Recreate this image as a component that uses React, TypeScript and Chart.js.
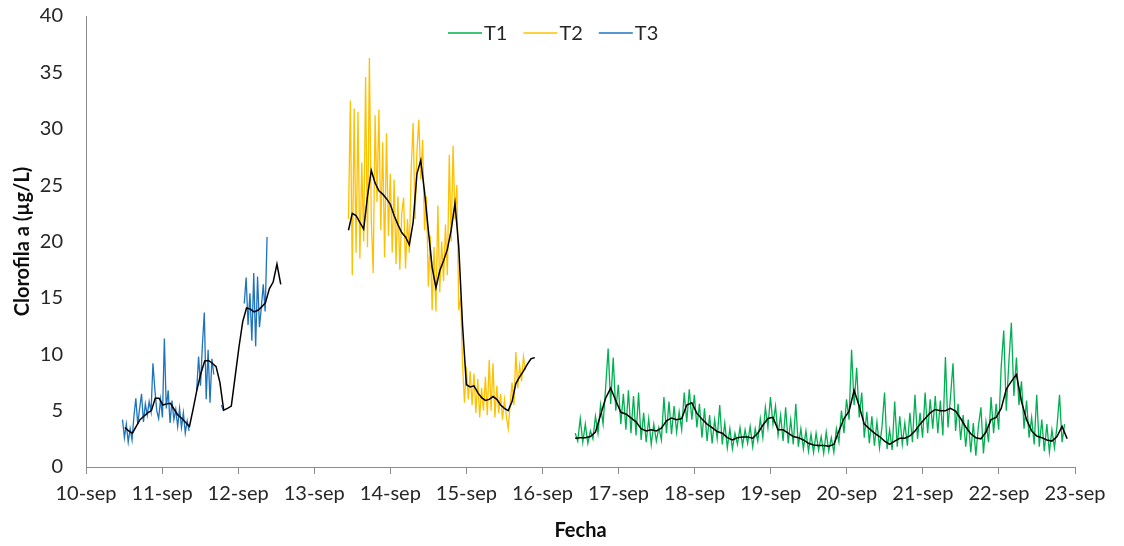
import { useEffect, useRef } from 'react';
import { Chart, registerables } from 'chart.js';

Chart.register(...registerables);

// ---- Data (days in September, values in µg/L) ----
const dayTicks = [10, 11, 12, 13, 14, 15, 16, 17, 18, 19, 20, 21, 22, 23];
const monthSuffix = '-sep';
const seriesNames = ['T1', 'T2', 'T3'];
const seriesColors = ['#00B050', '#FFC000', '#1E73BE'];
const xTitle = 'Fecha';
const yTitle = 'Clorofila a (µg/L)';

// T1 (green): sampled every 1/30 day
const t1Start = 16.43;
const t1Step = 1 / 30;
const t1Values = [
  3.0, 2.3, 4.3, 2.2, 3.8, 2.1, 3.2, 2.5, 4.5, 3.0,
  5.5, 3.8, 7.0, 10.5, 5.6, 9.7, 5.0, 7.3, 3.8, 6.5,
  3.3, 6.8, 3.0, 6.3, 2.8, 6.6, 2.4, 4.8, 2.2, 4.3,
  2.0, 3.8, 2.3, 3.5, 2.4, 6.2, 3.0, 5.8, 2.9, 5.4,
  3.1, 4.9, 3.3, 6.6, 4.0, 6.9, 4.2, 6.4, 3.5, 5.6,
  2.6, 5.2, 2.3, 4.6, 2.1, 4.2, 2.5, 5.5, 2.0, 3.9,
  1.7, 3.4, 1.6, 3.0, 2.0, 3.5, 1.9, 3.3, 2.1, 3.6,
  1.8, 3.4, 2.3, 4.3, 2.6, 5.3, 3.5, 6.2, 3.8, 5.4,
  2.8, 4.6, 2.3, 5.3, 2.1, 4.2, 2.0, 5.6, 1.8, 3.4,
  1.6, 3.2, 1.4, 2.9, 1.3, 3.0, 1.5, 2.7, 1.2, 3.1,
  1.4, 2.6, 1.3, 3.4, 2.2, 5.0, 3.0, 6.0, 4.2, 10.4,
  5.5, 8.8, 4.4, 6.6, 2.6, 4.9, 2.1, 4.5, 1.9, 4.0,
  1.7, 3.6, 6.6, 1.6, 3.3, 1.5, 5.8, 1.8, 4.5, 2.0,
  3.9, 1.9, 4.8, 2.2, 6.4, 2.5, 4.8, 2.6, 6.6, 3.0,
  6.0, 3.4, 6.3, 3.0, 5.9, 2.8, 9.75, 3.5, 6.2, 9.2,
  3.2, 5.6, 2.4, 4.6, 1.8, 4.2, 1.3, 3.9, 1.0, 3.6,
  5.3, 1.2, 4.0, 2.2, 6.2, 3.0, 5.6, 3.3, 8.9, 12.1,
  5.0, 9.2, 12.8, 6.3, 9.7, 5.5, 7.6, 3.4, 5.9, 2.6,
  4.4, 2.0, 6.4, 1.8, 4.2, 1.4, 3.8, 1.3, 3.3, 1.7,
  3.6, 6.4, 2.2, 3.8,
];

// T2 (yellow): sampled every 1/40 day
const t2Start = 13.45;
const t2Step = 1 / 40;
const t2Values = [
  22.0, 32.5, 17.0, 31.8, 19.0, 31.5, 18.5, 27.0, 20.0, 34.6,
  19.5, 36.3, 22.0, 17.2, 31.2, 23.5, 31.7, 21.0, 28.8, 18.6,
  29.6, 20.5, 26.0, 19.0, 25.5, 18.0, 24.0, 17.5, 22.5, 23.9,
  17.6, 22.0, 19.0, 26.5, 30.5, 22.0, 28.0, 30.8, 25.5, 29.0,
  21.0, 24.0, 16.0, 20.5, 13.9, 19.5, 13.8, 23.2, 15.5, 20.0,
  16.5, 21.5, 17.0, 27.7, 20.0, 28.5, 22.0, 25.0, 13.9, 15.0,
  9.0, 5.7, 8.9, 6.0, 8.5, 5.5, 8.3, 4.8, 7.8, 4.4,
  7.0, 5.0, 8.0, 4.6, 9.5, 5.0, 9.2, 4.4, 7.2, 4.8,
  6.5, 4.2, 6.0, 4.5, 3.4, 5.5, 7.5, 5.5, 10.2, 7.0,
  9.0, 7.6, 9.8, 8.6,
];

// T3 (blue): sampled every 1/40 day, null = no measurement
const t3Start = 10.48;
const t3Step = 1 / 40;
const t3Values = [
  4.2, 2.6, 3.8, 2.2, 3.4, 2.4, 4.5, 6.1, 3.8, 5.2,
  6.5, 4.0, 5.6, 4.6, 5.8, 4.9, 9.2, 6.9, 5.0, 4.3,
  6.0, 4.4, 11.4, 5.2, 6.8, 3.9, 5.9, 4.2, 5.1, 3.6,
  5.2, 3.5, 4.8, 3.0, 4.1, 3.2, null, null, null, 6.8,
  9.8, 7.2, 10.8, 13.7, 6.0, 10.4, 5.7, 9.6, 8.2, null,
  null, null, 5.5, 5.0, null, null, null, null, null, null,
  null, null, null, null, 14.5, 16.8, 12.6, 15.4, 11.2, 17.2,
  10.7, 16.9, 12.4, 14.2, 16.2, 13.8, 20.4,
];

// Moving averages (black lines)
const ma1Start = 16.43;
const ma1Step = 1 / 15;
const ma1Values = [
  2.55, 2.6, 2.6, 2.7, 3.1, 4.6, 6.1, 7.0, 5.9, 4.85,
  4.7, 4.35, 4.0, 3.4, 3.2, 3.3, 3.2, 3.45, 4.1, 4.35,
  4.2, 4.3, 5.5, 5.7, 4.75, 4.25, 3.8, 3.5, 3.15, 3.0,
  2.6, 2.4, 2.6, 2.65, 2.65, 2.55, 3.0, 3.7, 4.3, 4.4,
  3.3, 3.3, 3.0, 2.7, 2.6, 2.4, 2.1, 1.95, 1.9, 1.9,
  1.85, 2.0, 3.2, 4.3, 4.95, 6.8, 5.4, 3.8, 3.4, 3.0,
  2.7, 2.3, 2.0, 2.3, 2.55, 2.55, 2.75, 3.2, 3.8, 4.3,
  4.8, 5.1, 5.0, 5.0, 5.2, 4.95, 4.3, 3.55, 2.95, 2.6,
  2.5, 3.1, 4.2, 4.4, 5.2, 6.9, 7.6, 8.2, 5.8, 4.2,
  3.2, 2.75, 2.6, 2.4, 2.3, 2.7, 3.6, 2.5,
];

const ma2Start = 13.45;
const ma2Step = 1 / 20;
const ma2Values = [
  21.0, 22.5, 22.3, 21.7, 21.1, 24.0, 26.3, 25.2, 24.5, 24.2,
  23.8, 23.3, 22.3, 21.5, 20.8, 20.4, 19.7, 21.7, 26.0, 27.2,
  24.4, 21.0, 17.7, 15.9, 17.4, 18.3, 19.3, 21.0, 23.4, 19.5,
  12.5, 7.3, 7.1, 7.2, 6.6, 6.15, 5.9, 6.0, 6.25, 6.0,
  5.5, 5.2, 5.0, 5.8, 7.4, 8.0, 8.5, 9.1, 9.6, 9.7,
];

const ma3Start = 10.51;
const ma3Step = 1 / 20;
const ma3Values = [
  3.5, 3.2, 3.0, 3.6, 4.2, 4.5, 4.8, 5.0, 6.1, 6.1,
  5.5, 5.6, 5.65, 5.1, 4.6, 4.3, 3.95, 3.6, 5.2, 6.9,
  8.3, 9.4, 9.45, 9.2, 8.9, 7.5, 5.05, 5.2, 5.4, 8.0,
  10.6, 12.9, 14.1, 14.0, 13.75, 13.9, 14.2, 14.6, 15.8, 16.4,
  18.0, 16.2,
];

const toPoints = (start: number, step: number, values: (number | null)[]) =>
  values.map((v, i) => ({ x: start + i * step, y: v }));

const FONT = 'Lato, "Open Sans", "DejaVu Sans", sans-serif';
const TEXT = '#262626';
const AXIS = '#8c8c8c';

const inlineLegend = {
  id: 'inlineLegend',
  afterDraw(chart: any) {
    const { ctx, chartArea } = chart;
    ctx.save();
    ctx.font = `20px ${FONT}`;
    ctx.textBaseline = 'middle';
    let x = chartArea.left + 362;
    const y = chartArea.top + 17;
    seriesNames.forEach((name, i) => {
      ctx.strokeStyle = seriesColors[i];
      ctx.lineWidth = 1.6;
      ctx.beginPath();
      ctx.moveTo(x, y);
      ctx.lineTo(x + 34, y);
      ctx.stroke();
      ctx.fillStyle = TEXT;
      ctx.fillText(name, x + 36, y + 1);
      x += 36 + ctx.measureText(name).width + 16;
    });
    ctx.restore();
  },
};

export default function App() {
  const canvasRef = useRef<HTMLCanvasElement | null>(null);

  useEffect(() => {
    const canvas = canvasRef.current;
    if (!canvas) return;
    const lineDs = (label: string, data: any[], color: string, width: number, order: number) => ({
      label,
      data,
      borderColor: color,
      backgroundColor: color,
      borderWidth: width,
      pointRadius: 0,
      tension: 0,
      spanGaps: false,
      fill: false,
      order,
    });
    const chart = new Chart(canvas, {
      type: 'line',
      data: {
        datasets: [
          lineDs(seriesNames[0], toPoints(t1Start, t1Step, t1Values), seriesColors[0], 1.3, 2),
          lineDs(seriesNames[1], toPoints(t2Start, t2Step, t2Values), seriesColors[1], 1.3, 2),
          lineDs(seriesNames[2], toPoints(t3Start, t3Step, t3Values), seriesColors[2], 1.3, 2),
          lineDs('MA T1', toPoints(ma1Start, ma1Step, ma1Values), '#000000', 1.5, 1),
          lineDs('MA T2', toPoints(ma2Start, ma2Step, ma2Values), '#000000', 1.5, 1),
          lineDs('MA T3', toPoints(ma3Start, ma3Step, ma3Values), '#000000', 1.5, 1),
        ],
      },
      options: {
        animation: false,
        responsive: false,
        events: [],
        layout: { padding: { top: 16, right: 49, left: 0, bottom: 0 } },
        plugins: {
          legend: { display: false },
          tooltip: { enabled: false },
        },
        scales: {
          x: {
            type: 'linear',
            min: dayTicks[0],
            max: dayTicks[dayTicks.length - 1],
            afterFit: (s: any) => { s.height = 79; },
            afterBuildTicks: (s: any) => { s.ticks = dayTicks.map((v) => ({ value: v })); },
            ticks: {
              autoSkip: false,
              maxRotation: 0,
              padding: 8,
              color: TEXT,
              font: { family: FONT, size: 20 },
              callback: (v: any) => `${v}${monthSuffix}`,
            },
            grid: { display: true, drawOnChartArea: false, drawTicks: true, tickLength: 7, color: AXIS },
            border: { display: true, color: AXIS, width: 1 },
            title: {
              display: true,
              text: xTitle,
              color: '#0d0d0d',
              font: { family: FONT, size: 20, weight: 'bold' },
              padding: { top: 0, bottom: 3 },
            },
          },
          y: {
            type: 'linear',
            min: 0,
            max: 40,
            afterFit: (s: any) => {
              s.width = 86;
              s.paddingTop = 12;
              s.paddingBottom = 12;
            },
            ticks: {
              stepSize: 5,
              padding: 23,
              color: TEXT,
              font: { family: FONT, size: 20 },
            },
            grid: { display: false, drawTicks: false },
            border: { display: true, color: AXIS, width: 1 },
            title: {
              display: true,
              text: yTitle,
              color: '#0d0d0d',
              font: { family: FONT, size: 20, weight: 'bold' },
              padding: { top: 11, bottom: 0 },
            },
          },
        },
      } as any,
      plugins: [inlineLegend],
    });
    return () => chart.destroy();
  }, []);

  return (
    <div style={{ position: 'fixed', left: 0, top: 0, width: 1124, height: 546, background: '#fff' }}>
      <canvas ref={canvasRef} width={1124} height={546} style={{ display: 'block' }} />
    </div>
  );
}
